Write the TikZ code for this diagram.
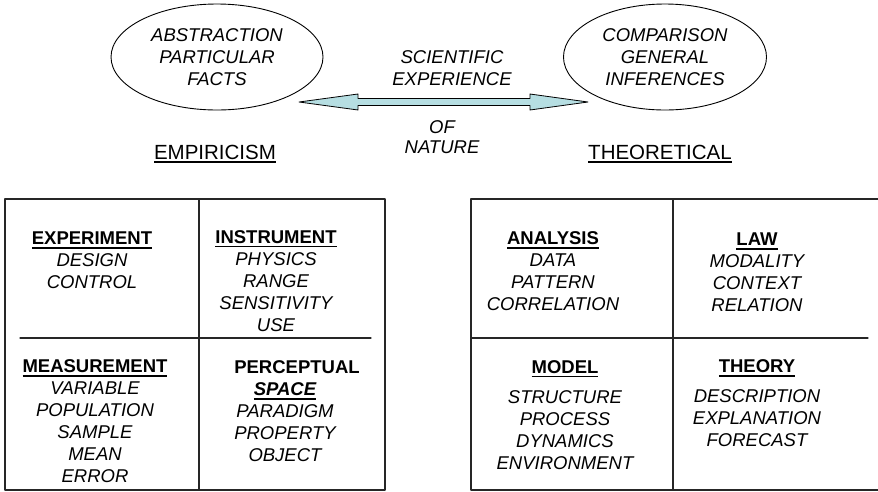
\documentclass[tikz,border=0pt]{standalone}
\usepackage{fontspec}
\setmainfont{Liberation Sans}
\usetikzlibrary{shapes.geometric}

\definecolor{arrowfill}{RGB}{182,222,226}

\newlength{\hdlen}
\newcommand{\hd}[1]{\settowidth{\hdlen}{#1}\rlap{\rule[-3.8pt]{\hdlen}{1.5pt}}{#1}}

\tikzset{
  oval/.style={draw,ellipse,line width=0.9pt,inner sep=0pt,align=center,
    font=\fontsize{18.5}{22}\selectfont\itshape},
  cell/.style={align=center,inner sep=0pt,font=\fontsize{18.5}{22}\selectfont\itshape},
  side/.style={inner sep=0pt,anchor=base,font=\fontsize{20.5}{24}\selectfont},
  frame/.style={line width=1.2pt,black!85},
}

\begin{document}
\begin{tikzpicture}[x=1pt,y=-1pt,line cap=round,line join=round]
\useasboundingbox (0,0) rectangle (878,491);

% ---- the two ovals ----
\node[oval,minimum width=212pt,minimum height=106pt] (abstr) at (217,57)
  {ABSTRACTION\\PARTICULAR\\FACTS};
\node[oval,minimum width=203pt,minimum height=106pt] (compar) at (665,57)
  {COMPARISON\\GENERAL\\INFERENCES};

% ---- double block arrow ----
\filldraw[fill=arrowfill,draw=black,line width=0.8pt]
  (299,102) -- (358,94) -- (358,98.5) -- (530,98.5) -- (530,94) -- (588,102)
  -- (530,110) -- (530,105.5) -- (358,105.5) -- (358,110) -- cycle;

\node[cell] (sci) at (452,68) {SCIENTIFIC\\EXPERIENCE};
\node[cell,font=\fontsize{18.5}{20}\selectfont\itshape] (nat) at (442,137) {OF\\NATURE};

% ---- side headings ----
\node[side] (emp) at (215,159) {\hd{EMPIRICISM}};
\node[side] (theo) at (660,159) {\hd{THEORETICAL}};

% ---- empiricism box ----
\draw[frame] (5,199) rectangle (385,490);
\draw[frame] (199,199) -- (199,490);
\draw[frame] (20,338) -- (371,338);

\node[cell] (expt) at (92,260.5)
  {\hd{\textbf{\upshape EXPERIMENT}}\\DESIGN\\CONTROL};
\node[cell] (instr) at (276,281)
  {\hd{\textbf{\upshape INSTRUMENT}}\\PHYSICS\\RANGE\\SENSITIVITY\\USE};
\node[cell] (meas) at (95,421.5)
  {\hd{\textbf{\upshape MEASUREMENT}}\\VARIABLE\\POPULATION\\SAMPLE\\MEAN\\ERROR};
\node[cell] (percep) at (285,411.5)
  {\hspace*{24pt}\textbf{\upshape PERCEPTUAL}\\\hd{\textbf{SPACE}}\\PARADIGM\\PROPERTY\\OBJECT};

% ---- theoretical box ----
\draw[frame] (878,199) -- (471,199) -- (471,490) -- (878,490);
\draw[frame] (673,199) -- (673,490);
\draw[frame] (471,338) -- (868,338);

\node[cell] (anal) at (553,271.5)
  {\hd{\textbf{\upshape ANALYSIS}}\\DATA\\PATTERN\\CORRELATION};
\node[cell] (law) at (757,272.5)
  {\hd{\textbf{\upshape LAW}}\\MODALITY\\CONTEXT\\RELATION};
\node[cell] (model) at (565,415)
  {\hd{\textbf{\upshape MODEL}}\\[8pt]STRUCTURE\\PROCESS\\DYNAMICS\\ENVIRONMENT};
\node[cell] (theory) at (757,403.5)
  {\hd{\textbf{\upshape THEORY}}\\[8pt]DESCRIPTION\\EXPLANATION\\FORECAST};
\end{tikzpicture}
\end{document}
